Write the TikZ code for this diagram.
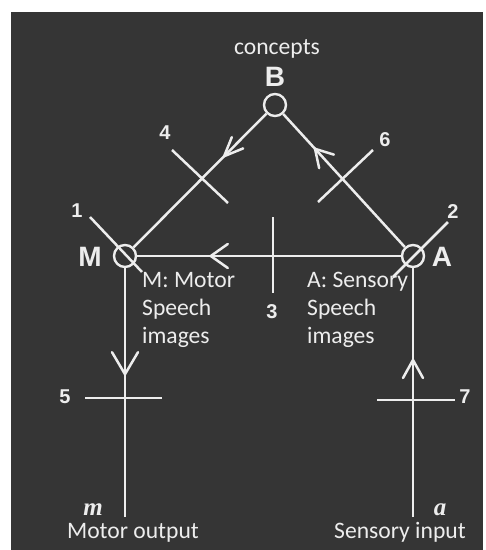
\documentclass[tikz,border=0pt]{standalone}
\usepackage{fontspec}
\newfontfamily\annfont{Carlito}
\newfontfamily\labfont{Liberation Sans}
\newfontfamily\serfont{Liberation Serif}
\usetikzlibrary{decorations.markings}
\definecolor{bg}{HTML}{353535}
\definecolor{ink}{HTML}{EDEDED}
\newcommand\chevr[2]{\draw[ink,line width=2.5pt,line cap=round,line join=round] (-#1pt,#2pt) -- (0pt,0pt) -- (-#1pt,-#2pt);}
\begin{document}
\begin{tikzpicture}[x=1pt,y=-1pt,
 lin/.style={draw=ink,line width=2.5pt},
 hub/.style={circle,draw=ink,line width=2.4pt,minimum size=22pt,inner sep=0pt},
 big/.style={text=ink,font=\labfont\bfseries\fontsize{28}{28}\selectfont,inner sep=0pt},
 num/.style={text=ink,font=\labfont\bfseries\fontsize{20}{20}\selectfont,inner sep=0pt},
 ann/.style={text=ink,font=\annfont\fontsize{23.6}{28}\selectfont,inner sep=0pt,align=left},
 ital/.style={text=ink,font=\serfont\bfseries\itshape\fontsize{25}{25}\selectfont,inner sep=0pt},
 arrowat/.style n args={3}{postaction={decorate},decoration={markings,mark=at position #1 with {\chevr{#2}{#3}}}}
]
\fill[white] (0,0) rectangle (486,550);
\fill[bg] (11,12) rectangle (483,550);
\useasboundingbox (0,0) rectangle (486,550);

\node[hub] (B) at (275,105) {};
\node[hub] (M) at (125,256) {};
\node[hub] (A) at (413,256) {};
\coordinate (mb) at (125,517);
\coordinate (ab) at (413,517);

\draw[lin, arrowat={60pt}{19}{8}] (B) -- (M);
\draw[lin, arrowat={133pt}{17}{10}] (A) -- (B);
\draw[lin, arrowat={190pt}{17}{12}] (A) -- (M);
\draw[lin, arrowat={106pt}{22}{13}] (M) -- (mb);
\draw[lin, arrowat={157pt}{18}{10}] (ab) -- (A);

\coordinate (c4a) at (172,150); \coordinate (c4b) at (228,203);
\coordinate (c6a) at (373,150); \coordinate (c6b) at (318,202);
\coordinate (c1a) at (90,217);  \coordinate (c1b) at (142,272);
\coordinate (c2a) at (448,222); \coordinate (c2b) at (393,277);
\coordinate (c3a) at (273,217); \coordinate (c3b) at (273,293);
\coordinate (c5a) at (85,398);  \coordinate (c5b) at (162,398);
\coordinate (c7a) at (377,400); \coordinate (c7b) at (455,400);
\draw[lin] (c4a) -- (c4b);
\draw[lin] (c6a) -- (c6b);
\draw[lin] (c1a) -- (c1b);
\draw[lin] (c2a) -- (c2b);
\draw[lin] (c3a) -- (c3b);
\draw[lin] (c5a) -- (c5b);
\draw[lin] (c7a) -- (c7b);

\node[big] (lB) at (275,77) {B};
\node[big] (lM) at (90,257) {M};
\node[big] (lA) at (442,257) {A};
\node[num] (n4) at (165,133) {4};
\node[num] (n6) at (385,140) {6};
\node[num] (n1) at (77,211) {1};
\node[num] (n2) at (453,212) {2};
\node[num] (n3) at (272,312) {3};
\node[num] (n5) at (65,397) {5};
\node[num] (n7) at (465,397) {7};
\node[ital] (lm) at (93,510) {m};
\node[ital] (la) at (440,510) {a};

\node[ann,anchor=base] (conc) at (277,54) {concepts};
\node[ann,anchor=north west] (mtxt) at (142,272) {M: Motor\\Speech\\images};
\node[ann,anchor=north west] (atxt) at (307,272) {A: Sensory\\Speech\\images};
\node[ann,anchor=base] (mout) at (133,538) {Motor output};
\node[ann,anchor=base] (sin) at (400,538) {Sensory input};
\end{tikzpicture}
\end{document}
